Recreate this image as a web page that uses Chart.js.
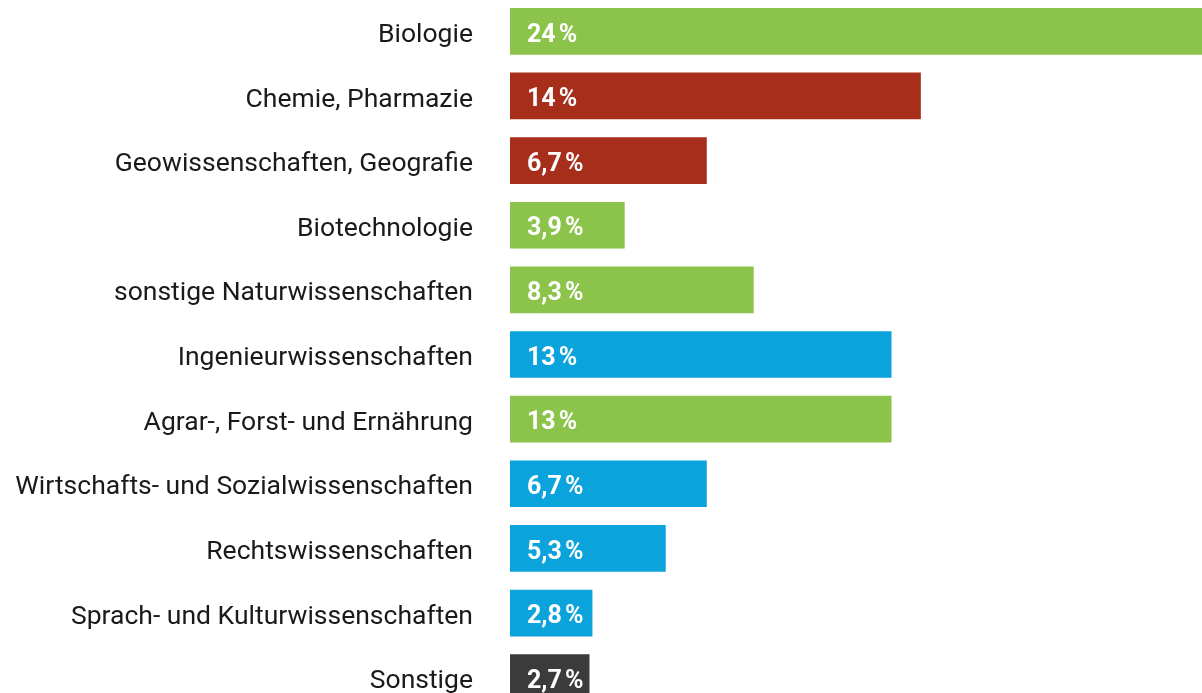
<!DOCTYPE html>
<html>
<head>
<meta charset="utf-8">
<script src="https://cdn.jsdelivr.net/npm/chart.js@4"></script>
<style>
  html, body { margin: 0; padding: 0; background: #fff; overflow: hidden; }
  #chart { display: block; margin-top: -1px; }
</style>
</head>
<body>
<canvas id="chart" width="1202" height="711"></canvas>
<script>
// Fachgebiete (von oben nach unten)
const categories = [
    'Biologie',
    'Chemie, Pharmazie',
    'Geowissenschaften, Geografie',
    'Biotechnologie',
    'sonstige Naturwissenschaften',
    'Ingenieurwissenschaften',
    'Agrar-, Forst- und Ernährung',
    'Wirtschafts- und Sozialwissenschaften',
    'Rechtswissenschaften',
    'Sprach- und Kulturwissenschaften',
    'Sonstige'
];

// Anteile in Prozent
const shares = [24, 14, 6.7, 3.9, 8.3, 13, 13, 6.7, 5.3, 2.8, 2.7];

// Farbgruppe je Balken
const groups = ['green', 'red', 'red', 'green', 'green', 'blue', 'green', 'blue', 'blue', 'blue', 'dark'];

const groupColors = {
    green: '#8bc34b',
    red: '#a62e1b',
    blue: '#0ba3dc',
    dark: '#3b3b3b'
};

function formatShare(v) {
    return String(v).replace('.', ',') + '\u202F%';
}

// Wert-Labels innen im Balken
const valueLabels = {
    id: 'valueLabels',
    afterDatasetsDraw(chart) {
        const ctx = chart.ctx;
        const meta = chart.getDatasetMeta(0);
        ctx.save();
        ctx.fillStyle = '#ffffff';
        ctx.font = 'bold 25px Roboto';
        ctx.textBaseline = 'middle';
        ctx.textAlign = 'left';
        meta.data.forEach((bar, i) => {
            ctx.fillText(formatShare(shares[i]), bar.base + 17, bar.y + 4);
        });
        ctx.restore();
    }
};

new Chart(document.getElementById('chart'), {
    type: 'bar',
    data: {
        labels: categories,
        datasets: [{
            data: shares,
            backgroundColor: groups.map(g => groupColors[g]),
            barThickness: 46,
            borderWidth: 0
        }]
    },
    options: {
        indexAxis: 'y',
        responsive: false,
        animation: false,
        layout: { padding: 0 },
        plugins: {
            legend: { display: false },
            tooltip: { enabled: false }
        },
        scales: {
            x: {
                display: false,
                min: 0,
                max: 23.6
            },
            y: {
                afterFit(scale) {
                    scale.width = 510;
                    // tick padding should not shrink the plot vertically
                    scale.paddingTop = 0;
                    scale.paddingBottom = 0;
                },
                grid: { display: false, drawTicks: false },
                border: { display: false },
                ticks: {
                    color: '#1a1a1a',
                    padding: 37,
                    labelOffset: 4,
                    font: { family: 'Roboto', size: 26.5 }
                }
            }
        }
    },
    plugins: [valueLabels]
});
</script>
</body>
</html>
